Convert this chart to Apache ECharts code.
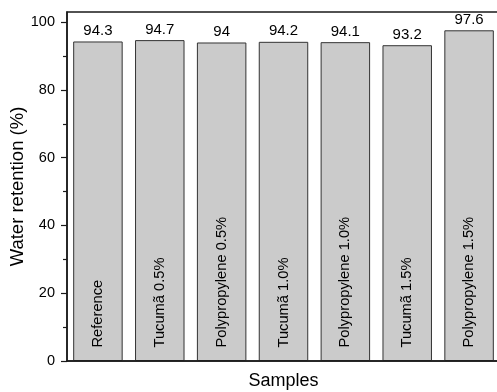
<!DOCTYPE html>
<html>
<head>
<meta charset="utf-8">
<script src="https://cdn.jsdelivr.net/npm/echarts@6/dist/echarts.min.js"></script>
<style>
  html, body { margin: 0; padding: 0; background: #fff; }
  #chart { width: 497px; height: 392px; }
</style>
</head>
<body>
<div id="chart"></div>
<script>
// Water retention of each mortar sample
const categories = ['Reference', 'Tucumã 0.5%', 'Polypropylene 0.5%', 'Tucumã 1.0%', 'Polypropylene 1.0%', 'Tucumã 1.5%', 'Polypropylene 1.5%'];
const retention = [94.3, 94.7, 94, 94.2, 94.1, 93.2, 97.6];
const yMajorTicks = [0, 20, 40, 60, 80, 100];
const yMinorTicks = [10, 30, 50, 70, 90];

const FONT = 'Liberation Sans, Arial, sans-serif';
const INK = '#000';

const chart = echarts.init(document.getElementById('chart'), null, { renderer: 'canvas' });

chart.setOption({
  animation: false,
  backgroundColor: '#fff',
  textStyle: { fontFamily: FONT, color: INK },
  grid: {
    left: 67, top: 12, width: 433, height: 349,
    outerBoundsMode: 'none',
    containLabel: false,
    show: true, borderColor: '#1a1a1a', borderWidth: 1.5, backgroundColor: 'transparent'
  },
  xAxis: {
    type: 'category',
    data: categories,
    boundaryGap: true,
    z: 5,
    name: 'Samples',
    nameLocation: 'middle',
    nameGap: 11,
    nameMoveOverlap: false,
    nameTextStyle: { fontSize: 18, color: INK, fontFamily: FONT },
    axisLine: { lineStyle: { color: '#1a1a1a', width: 1.5 } },
    axisTick: { show: false },
    axisLabel: {
      inside: true, rotate: 90, margin: 13.5, interval: 0,
      fontSize: 14.7, color: INK, fontFamily: FONT
    },
    splitLine: { show: false }
  },
  yAxis: [
    {
      type: 'value',
      min: 0, max: 103, interval: 20,
      name: 'Water retention (%)',
      nameLocation: 'middle',
      nameGap: 40,
      nameMoveOverlap: false,
      nameTextStyle: { fontSize: 18.5, color: INK, fontFamily: FONT },
      axisLine: { show: true, lineStyle: { color: '#1a1a1a', width: 1.5 } },
      axisTick: { show: true, length: 6, customValues: yMajorTicks, lineStyle: { color: '#1a1a1a', width: 1.2 } },
      axisLabel: { customValues: yMajorTicks, margin: 12, fontSize: 14.5, color: INK, fontFamily: FONT },
      splitLine: { show: false }
    },
    {
      type: 'value',
      position: 'left',
      min: 0, max: 103,
      axisLine: { show: false },
      axisTick: { show: true, length: 4, customValues: yMinorTicks, lineStyle: { color: '#1a1a1a', width: 1.2 } },
      axisLabel: { show: false },
      splitLine: { show: false }
    }
  ],
  series: [{
    type: 'bar',
    data: retention,
    yAxisIndex: 0,
    barCategoryGap: '20%',
    itemStyle: { color: '#cbcbcb', borderColor: '#333', borderWidth: 1 },
    label: {
      show: true, position: 'top', distance: 3,
      fontSize: 15, color: INK, fontFamily: FONT
    }
  }]
});
</script>
</body>
</html>
